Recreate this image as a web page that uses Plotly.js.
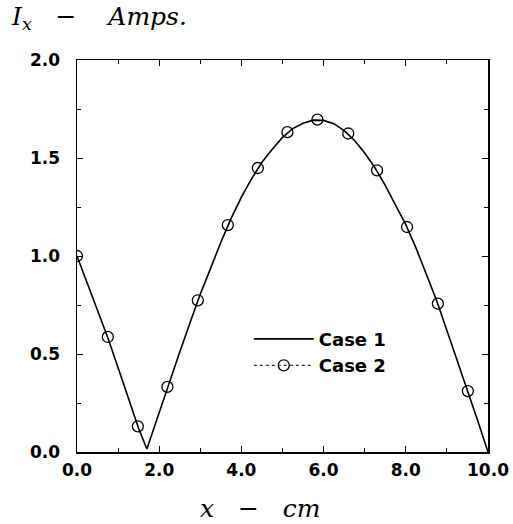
<!DOCTYPE html>
<html>
<head>
<meta charset="utf-8">
<script src="https://cdn.plot.ly/plotly-3.0.1.min.js"></script>
<style>html,body{margin:0;padding:0;background:#fff;}#chart{width:513px;height:524px;}</style>
</head>
<body>
<div id="chart"></div>
<script>
// Case 1: continuous solution
const case1X = [0.0, 0.25, 0.5, 0.75, 1.0, 1.25, 1.5, 1.7, 2.0, 2.2, 2.5, 2.75, 3.0, 3.25, 3.5, 3.75, 4.0, 4.25, 4.5, 4.75, 5.0, 5.25, 5.5, 5.75, 6.0, 6.25, 6.5, 6.75, 7.0, 7.25, 7.5, 7.75, 8.0, 8.25, 8.5, 8.75, 9.0, 9.25, 9.5, 9.75, 10.0];
const case1Y = [1.0, 0.86, 0.725, 0.583, 0.43, 0.275, 0.12, 0.015, 0.205, 0.332, 0.51, 0.66, 0.806, 0.937, 1.07, 1.192, 1.30, 1.395, 1.478, 1.545, 1.605, 1.65, 1.677, 1.693, 1.692, 1.675, 1.64, 1.59, 1.525, 1.45, 1.36, 1.26, 1.16, 1.04, 0.91, 0.773, 0.62, 0.47, 0.317, 0.16, 0.0];
// Case 2: discrete points
const case2X = [0.0, 0.75, 1.48, 2.20, 2.94, 3.67, 4.40, 5.12, 5.85, 6.60, 7.30, 8.03, 8.78, 9.51];
const case2Y = [1.0, 0.587, 0.131, 0.332, 0.774, 1.158, 1.449, 1.632, 1.696, 1.625, 1.437, 1.148, 0.757, 0.311];
const seriesNames = ["Case 1", "Case 2"];
const xTickVals = [0, 2, 4, 6, 8, 10];
const xTickText = ["0.0", "2.0", "4.0", "6.0", "8.0", "10.0"];
const yTickVals = [0, 0.5, 1.0, 1.5, 2.0];
const yTickText = ["0.0", "0.5", "1.0", "1.5", "2.0"];

const tickFont = {family: "DejaVu Sans", size: 17, color: "#000", weight: "bold"};
const serif = "DejaVu Serif";

const case2Marker = {symbol: "circle-open", size: 11, color: "#000", line: {width: 1.3, color: "#000"}};

const traces = [
  {x: case1X, y: case1Y, name: seriesNames[0], type: "scatter", mode: "lines",
   line: {color: "#000", width: 1.6}},
  // Case 2 points in the plot
  {x: case2X, y: case2Y, name: seriesNames[1], type: "scatter", mode: "markers",
   marker: case2Marker, showlegend: false, legendgroup: "c2"},
  // legend entry for Case 2 (dotted line with marker)
  {x: [null], y: [null], name: seriesNames[1], type: "scatter", mode: "lines+markers",
   line: {color: "#000", width: 1, dash: "dot"}, marker: case2Marker, legendgroup: "c2"}
];

const axisCommon = {
  showline: true, linecolor: "#000", linewidth: 1.5, mirror: "ticks",
  ticks: "inside", ticklen: 6, tickwidth: 1, tickcolor: "#000",
  showgrid: false, zeroline: false, tickfont: tickFont,
  minor: {ticks: "inside", ticklen: 4, tickwidth: 1, tickcolor: "#000", showgrid: false}
};

const layout = {
  width: 513, height: 524,
  margin: {l: 77, r: 25, t: 60, b: 72, pad: 0},
  paper_bgcolor: "#fff", plot_bgcolor: "#fff",
  showlegend: true,
  legend: {x: 0.418, y: 0.335, xanchor: "left", yanchor: "top", bgcolor: "rgba(0,0,0,0)",
           font: {family: "DejaVu Sans", size: 18, color: "#000", weight: "bold"},
           itemwidth: 60, tracegroupgap: 0},
  xaxis: Object.assign({}, axisCommon, {
    range: [0, 10], tickvals: xTickVals, ticktext: xTickText,
    minor: Object.assign({}, axisCommon.minor, {dtick: 1}),
    ticklabelstandoff: 2
  }),
  yaxis: Object.assign({}, axisCommon, {
    range: [0, 2], tickvals: yTickVals, ticktext: yTickText,
    minor: Object.assign({}, axisCommon.minor, {dtick: 0.25}),
    ticklabelstandoff: 12
  }),
  annotations: [
    {text: "<i>I</i><sub><i>x</i></sub>   −    <i>Amps.</i>", xref: "paper", yref: "paper",
     x: -0.165, y: 1.0, xanchor: "left", yanchor: "bottom", yshift: 24, showarrow: false,
     font: {family: serif, size: 25, color: "#000"}},
    {text: "<i>x</i>   −   <i>cm</i>", xref: "paper", yref: "paper",
     x: 0.446, y: 0, xanchor: "center", yanchor: "top", yshift: -40, showarrow: false,
     font: {family: serif, size: 25, color: "#000"}}
  ]
};

Plotly.newPlot("chart", traces, layout, {displayModeBar: false, staticPlot: true});
</script>
</body>
</html>
